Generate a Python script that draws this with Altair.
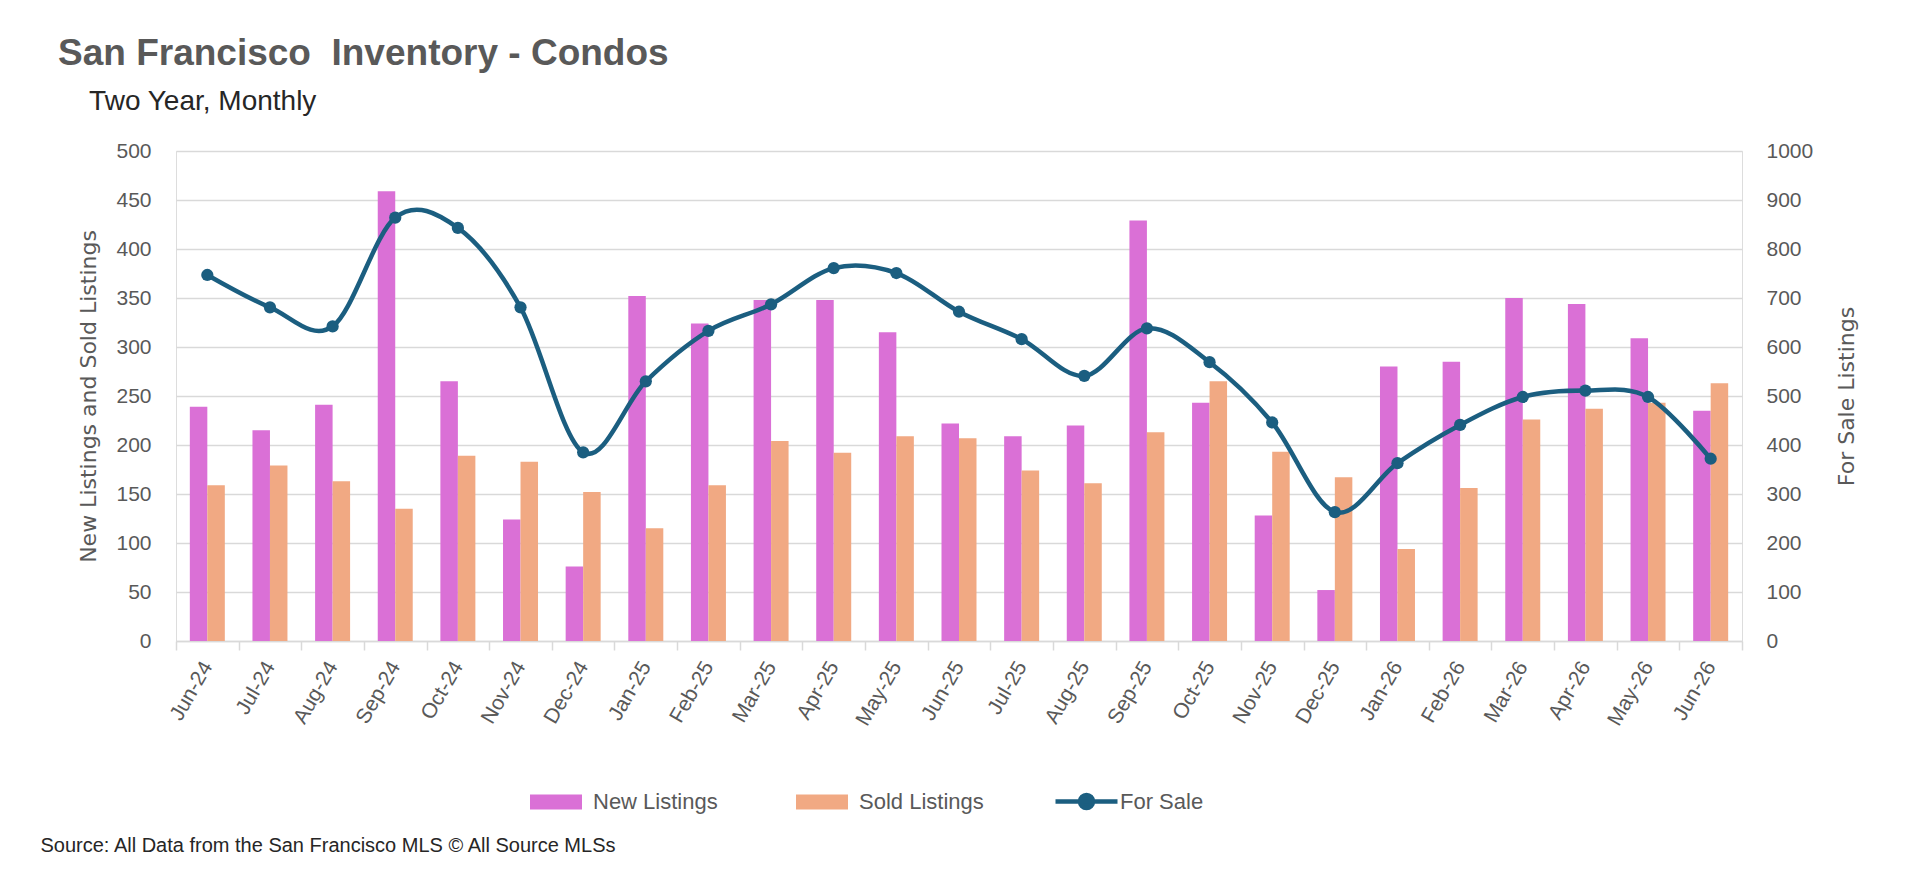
import altair as alt
import pandas as pd

months = ["Jun-24", "Jul-24", "Aug-24", "Sep-24", "Oct-24", "Nov-24", "Dec-24",
          "Jan-25", "Feb-25", "Mar-25", "Apr-25", "May-25", "Jun-25", "Jul-25",
          "Aug-25", "Sep-25", "Oct-25", "Nov-25", "Dec-25", "Jan-26", "Feb-26",
          "Mar-26", "Apr-26", "May-26", "Jun-26"]
new_listings = [239, 215, 241, 459, 265, 124, 76, 352, 324, 348, 348, 315, 222,
                209, 220, 429, 243, 128, 52, 280, 285, 350, 344, 309, 235]
sold_listings = [159, 179, 163, 135, 189, 183, 152, 115, 159, 204, 192, 209, 207,
                 174, 161, 213, 265, 193, 167, 94, 156, 226, 237, 243, 263]
for_sale = [747, 681, 642, 864, 843, 681, 385, 530, 633, 687, 761, 751, 672,
            616, 541, 638, 569, 446, 263, 363, 441, 498, 511, 498, 372]

series_names = ["New Listings", "Sold Listings"]
bar_colors = ["#DA70D6", "#F1A983"]
line_name = "For Sale"
line_color = "#1B5E80"
source_text = "Source: All Data from the San Francisco MLS \u00a9 All Source MLSs"

bars_df = pd.DataFrame({
    "month": months * 2,
    "series": [series_names[0]] * len(months) + [series_names[1]] * len(months),
    "value": new_listings + sold_listings,
})
line_df = pd.DataFrame({"month": months, "forsale": for_sale,
                        "series": [line_name] * len(months)})

LABEL_FONT = "Liberation Sans, Arial, sans-serif"
GREY = "#595959"
GRID = "#D9D9D9"

x_enc = alt.X(
    "month:N", sort=months, title=source_text,
    scale=alt.Scale(paddingInner=0, paddingOuter=0),
    axis=alt.Axis(labelAngle=300, labelFont=LABEL_FONT, labelFontSize=21,
                  labelColor=GREY, labelPadding=13, tickBand="extent",
                  ticks=True, tickSize=9, tickColor=GRID, tickWidth=1.5,
                  domainColor=GRID, domainWidth=1.5, grid=False,
                  titleFont=LABEL_FONT, titleFontSize=20,
                  titleFontWeight="normal", titleColor="#262626",
                  titleX=-136, titleY=204, titleAlign="left",
                  titleAnchor="start", titleBaseline="middle"),
)

bars = alt.Chart(bars_df).mark_bar().encode(
    x=x_enc,
    xOffset=alt.XOffset("series:N", sort=series_names,
                        scale=alt.Scale(paddingInner=0, paddingOuter=0.79)),
    y=alt.Y("value:Q", scale=alt.Scale(domain=[0, 500], nice=False),
            axis=alt.Axis(values=list(range(0, 501, 50)),
                          title="New Listings and Sold Listings",
                          titleFont="DejaVu Sans", titleFontSize=22,
                          titleFontWeight="normal", titleColor=GREY,
                          titleX=-88, titleY=245, titleBaseline="middle",
                          labelFont=LABEL_FONT, labelFontSize=21,
                          labelColor=GREY, labelPadding=25, ticks=False,
                          domain=False, grid=True, gridColor=GRID,
                          gridWidth=1.5)),
    color=alt.Color("series:N", sort=series_names,
                    scale=alt.Scale(domain=series_names, range=bar_colors),
                    legend=alt.Legend(
                        title=None, orient="none", direction="horizontal",
                        legendX=354, legendY=625,
                        symbolType="M-1,-0.29H1V0.29H-1Z", symbolSize=2704,
                        symbolStrokeWidth=0, labelFont=LABEL_FONT,
                        labelFontSize=22, labelColor=GREY, labelOffset=11,
                        columnPadding=78)),
)

y2 = alt.Y("forsale:Q", scale=alt.Scale(domain=[0, 1000], nice=False),
           axis=alt.Axis(orient="right", values=list(range(0, 1001, 100)),
                         format="d",
                         title="For Sale Listings",
                         titleFont="DejaVu Sans", titleFontSize=22,
                         titleFontWeight="normal", titleColor=GREY,
                         titleAngle=270, titleX=104, titleY=245,
                         titleBaseline="middle",
                         labelFont=LABEL_FONT, labelFontSize=21,
                         labelColor=GREY, labelPadding=24, ticks=False,
                         domain=False, grid=False))

line_color_enc = alt.Color(
    "series:N", scale=alt.Scale(domain=[line_name], range=[line_color]),
    legend=alt.Legend(title=None, orient="none", legendX=877, legendY=617,
                      symbolType="M-1,0H1M-0.21,0A0.21,0.21 0 1,1 0.21,0A0.21,0.21 0 1,1 -0.21,0Z",
                      symbolSize=3844, symbolStrokeWidth=4.5,
                      symbolStrokeColor=line_color, symbolFillColor=line_color,
                      labelFont=LABEL_FONT, labelFontSize=22, labelColor=GREY,
                      labelOffset=0))

line = alt.Chart(line_df).mark_line(
    interpolate="cardinal", strokeWidth=4.5, color=line_color
).encode(x=alt.X("month:N", sort=months), y=y2, color=line_color_enc)

pts = alt.Chart(line_df).mark_point(
    filled=True, size=150, opacity=1, color=line_color
).encode(x=alt.X("month:N", sort=months), y=y2, color=line_color_enc)

right = alt.layer(line, pts)

chart = alt.layer(bars, right).resolve_scale(
    y="independent", color="independent"
).properties(
    width=1566, height=490,
    padding={"left": 168, "top": 143, "right": 168, "bottom": 236},
    autosize=alt.AutoSizeParams(type="none"),
    title=alt.TitleParams(
        text="San Francisco\u00a0 Inventory - Condos",
        subtitle="\u200b\u00a0\u00a0\u00a0\u00a0Two Year, Monthly",
        anchor="start", frame="group", dx=-118, offset=23,
        font=LABEL_FONT, fontSize=37, fontWeight="bold", color=GREY,
        subtitleFont=LABEL_FONT, subtitleFontSize=28, subtitleColor="#262626",
        subtitlePadding=15,
    ),
).configure_view(stroke=None).configure(font=LABEL_FONT)

chart.save("out.html", embed_options={"renderer": "svg", "actions": False})
